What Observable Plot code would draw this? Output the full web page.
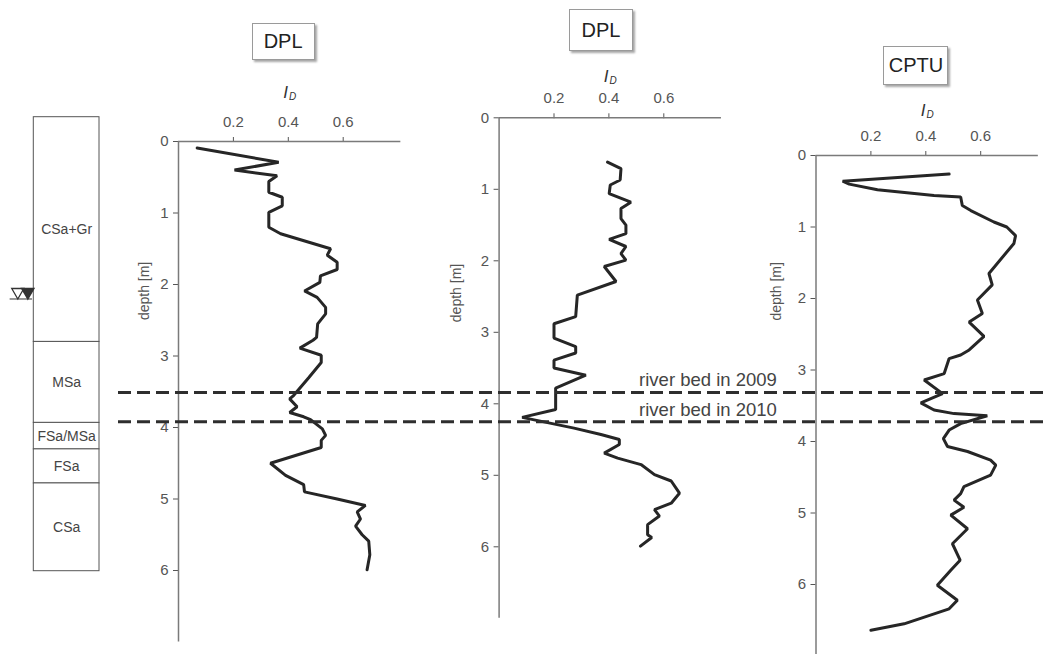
<!DOCTYPE html>
<html><head><meta charset="utf-8">
<script src="https://cdn.jsdelivr.net/npm/d3@7"></script>
<script src="https://cdn.jsdelivr.net/npm/@observablehq/plot@0.6"></script>
<style>
body{margin:0;background:#fff;}
#fig{position:relative;width:1044px;height:654px;overflow:hidden;font-family:"Liberation Sans",Arial,Helvetica,sans-serif;background:#fff;}
#fig svg{position:absolute;left:0;top:0;max-width:none;}
.title{position:absolute;box-sizing:border-box;border:1px solid #9a9a9a;box-shadow:2px 2px 2px rgba(0,0,0,0.35);background:#fff;font-size:20px;color:#222;display:flex;align-items:center;justify-content:center;}
</style></head>
<body><div id="fig"></div>
<script>
// ---------- data ----------
const panelTitles = ["DPL", "DPL", "CPTU"];
const xTicks = [0.2, 0.4, 0.6];
const yTicks = [0, 1, 2, 3, 4, 5, 6];

// DPL (left) : depth [m], I_D
const dpl1Depth = [0.09,0.29,0.40,0.48,0.56,0.71,0.78,0.90,0.99,1.20,1.29,1.50,1.59,1.69,1.79,1.88,1.97,2.09,2.18,2.32,2.41,2.55,2.74,2.78,2.89,2.99,3.09,3.30,3.55,3.60,3.71,3.79,3.85,3.89,4.02,4.11,4.18,4.28,4.50,4.67,4.80,4.90,5.00,5.09,5.18,5.28,5.38,5.50,5.59,5.78,5.99];
const dpl1ID    = [0.068,0.365,0.204,0.359,0.329,0.329,0.378,0.378,0.329,0.329,0.372,0.554,0.542,0.578,0.578,0.517,0.515,0.459,0.505,0.536,0.536,0.507,0.503,0.490,0.442,0.520,0.520,0.475,0.420,0.405,0.432,0.405,0.456,0.481,0.524,0.536,0.520,0.520,0.335,0.390,0.456,0.459,0.578,0.681,0.651,0.663,0.645,0.669,0.693,0.697,0.687];

// DPL (middle)
const dpl2Depth = [0.62,0.71,0.87,0.94,1.06,1.18,1.27,1.41,1.50,1.62,1.70,1.80,1.90,1.99,2.08,2.29,2.48,2.78,2.88,3.08,3.20,3.29,3.39,3.50,3.60,3.78,4.08,4.19,4.34,4.43,4.50,4.57,4.69,4.76,4.85,4.99,5.08,5.25,5.39,5.48,5.57,5.69,5.83,5.87,5.99];
const dpl2ID    = [0.395,0.444,0.441,0.405,0.401,0.480,0.444,0.444,0.462,0.462,0.401,0.462,0.444,0.462,0.383,0.426,0.285,0.279,0.200,0.200,0.279,0.279,0.200,0.200,0.316,0.206,0.206,0.084,0.273,0.371,0.438,0.438,0.383,0.432,0.517,0.566,0.627,0.657,0.627,0.566,0.584,0.541,0.541,0.556,0.515];

// CPTU (right)
const cptuDepth = [0.26,0.36,0.40,0.48,0.56,0.58,0.70,0.77,0.93,1.00,1.12,1.23,1.65,1.81,2.02,2.21,2.33,2.53,2.72,2.79,2.84,3.05,3.14,3.33,3.46,3.56,3.61,3.64,3.75,3.84,3.96,4.07,4.14,4.26,4.33,4.47,4.63,4.73,4.82,4.92,5.03,5.22,5.43,5.66,5.80,6.01,6.22,6.34,6.55,6.64];
const cptuID    = [0.485,0.097,0.121,0.224,0.430,0.527,0.533,0.564,0.648,0.695,0.727,0.721,0.630,0.642,0.588,0.606,0.558,0.612,0.558,0.527,0.485,0.467,0.394,0.461,0.382,0.430,0.503,0.624,0.527,0.485,0.464,0.479,0.552,0.636,0.655,0.636,0.539,0.527,0.503,0.539,0.491,0.552,0.497,0.525,0.491,0.442,0.515,0.485,0.321,0.200];

// soil profile (depth along the column, m)
const layerNames   = ["CSa+Gr", "MSa", "FSa/MSa", "FSa", "CSa"];
const layerTops    = [0, 2.97, 4.04, 4.39, 4.84];
const layerBottoms = [2.97, 4.04, 4.39, 4.84, 6.0];
const waterTable = 2.31;

// river bed levels (depth on the left DPL profile)
const riverBedLabels = ["river bed in 2009", "river bed in 2010"];
const riverBedDepth  = [3.51, 3.92];

// ---------- layout ----------
const FONT = '"Liberation Sans", Arial, Helvetica, sans-serif';
const W = 1044, H = 654;
const pxPerX = 274.5, pxPerM = 71.5, xMax = 0.81, yMax = 7;
const panelLayout = [
  {left: 178,   top: 141,   labelDy: -49, depthAt: 2.09, depthDx: -34, titleAt: 0.383, titleTop: 22.7, titleW: 63, titleH: 37},
  {left: 498.6, top: 117.3, labelDy: -41, depthAt: 2.45, depthDx: -43, titleAt: 0.373, titleTop: 9.3,  titleW: 64, titleH: 42},
  {left: 815.5, top: 155,   labelDy: -45, depthAt: 1.90, depthDx: -39, titleAt: 0.366, titleTop: 45.7, titleW: 65, titleH: 39}
];
const panelData = [[dpl1ID, dpl1Depth], [dpl2ID, dpl2Depth], [cptuID, cptuDepth]];

const fig = document.getElementById("fig");

// soil column
const layers = layerNames.map((n, i) => ({name: n, top: layerTops[i], bottom: layerBottoms[i]}));
const soil = Plot.plot({
  width: 130, height: H,
  marginLeft: 33.3, marginRight: 31, marginTop: 116.7, marginBottom: 83.3,
  style: {background: "transparent", fontFamily: FONT, overflow: "visible"},
  x: {domain: [0, 1], axis: null},
  y: {domain: [0, 6], reverse: true, axis: null},
  marks: [
    Plot.rect(layers, {x1: 0, x2: 1, y1: "top", y2: "bottom", fill: "white", stroke: "#555", strokeWidth: 1}),
    Plot.text(layers, {x: 0.5, y: d => (d.top + d.bottom) / 2, text: "name", fontSize: 14, fill: "#444"}),
    Plot.ruleY([waterTable], {x1: -0.36, x2: -0.02, dy: 7, stroke: "#333", strokeWidth: 1}),
    Plot.dot([waterTable], {x: 0, y: d => d, dx: -16, symbol: "triangle", rotate: 180, r: 4.5, fill: "white", stroke: "#333", strokeWidth: 1.3}),
    Plot.dot([waterTable], {x: 0, y: d => d, dx: -6, symbol: "triangle", rotate: 180, r: 4.5, fill: "#333", stroke: "#333"})
  ]
});
fig.appendChild(soil);

// panels
panelLayout.forEach((p, k) => {
  const [ids, depths] = panelData[k];
  const rows = depths.map((d, i) => ({depth: d, id: ids[i]}));
  const PH = 660;
  const plot = Plot.plot({
    width: W, height: PH,
    marginLeft: p.left, marginRight: W - p.left - xMax * pxPerX,
    marginTop: p.top, marginBottom: PH - p.top - yMax * pxPerM,
    style: {background: "transparent", fontFamily: FONT, fontSize: "15px", color: "#555", overflow: "visible"},
    x: {domain: [0, xMax], axis: "top", ticks: xTicks, tickSize: 5, tickPadding: 10, label: null, tickFormat: d3.format(".1f")},
    y: {domain: [0, yMax], reverse: true, ticks: yTicks, tickSize: 5, tickPadding: 5, label: null, tickFormat: d3.format("d")},
    marks: [
      Plot.ruleY([0], {stroke: "#7a7a7a", strokeWidth: 1.5}),
      Plot.ruleX([0], {stroke: "#7a7a7a", strokeWidth: 1.5}),
      Plot.line(rows, {x: "id", y: "depth", stroke: "#262626", strokeWidth: 3, strokeLinejoin: "miter"}),
      Plot.text(["I"], {x: 0.39, y: 0, dy: p.labelDy, text: d => d, fontSize: 17, fontStyle: "italic", fill: "#333"}),
      Plot.text(["D"], {x: 0.39, y: 0, dx: 7, dy: p.labelDy + 4, text: d => d, fontSize: 10, fontStyle: "italic", fill: "#333"}),
      Plot.text(["depth [m]"], {x: 0, y: p.depthAt, dx: p.depthDx, text: d => d, rotate: -90, fontSize: 14, fill: "#555"})
    ]
  });
  fig.appendChild(plot);
  // title box positioned through the panel's x scale
  const sx = plot.scale("x");
  const cx = sx && sx.apply ? sx.apply(p.titleAt) : p.left + p.titleAt * pxPerX;
  const box = document.createElement("div");
  box.className = "title";
  box.textContent = panelTitles[k];
  box.style.left = (cx - p.titleW / 2) + "px";
  box.style.top = p.titleTop + "px";
  box.style.width = p.titleW + "px";
  box.style.height = p.titleH + "px";
  fig.appendChild(box);
});

// river bed dashed lines across the figure
const beds = riverBedLabels.map((l, i) => ({label: l, depth: riverBedDepth[i]}));
const overlay = Plot.plot({
  width: W, height: H,
  marginLeft: 118, marginRight: 0, marginTop: 141, marginBottom: H - 141 - yMax * pxPerM,
  style: {background: "transparent", fontFamily: FONT, overflow: "visible"},
  x: {domain: [0, 1], axis: null},
  y: {domain: [0, yMax], reverse: true, axis: null},
  marks: [
    Plot.ruleY(beds, {y: "depth", stroke: "#2e2e2e", strokeWidth: 3, strokeDasharray: "13,6"}),
    Plot.text(beds, {x: 0.711, y: "depth", dy: -12, text: "label", textAnchor: "end", fontSize: 18.5, fill: "#444"})
  ]
});
fig.appendChild(overlay);
</script></body></html>
